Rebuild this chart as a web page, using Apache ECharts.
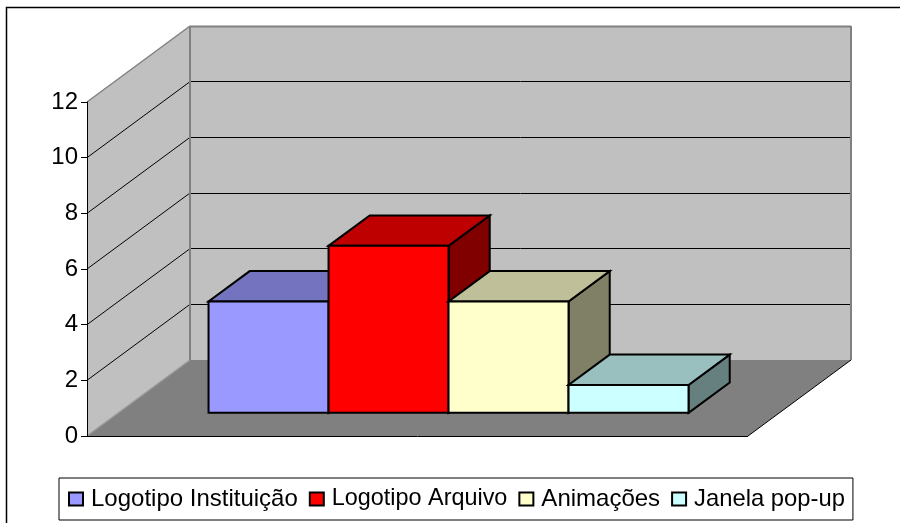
<!DOCTYPE html>
<html>
<head>
<meta charset="utf-8">
<style>
html, body { margin: 0; padding: 0; background: #fff; }
#main { width: 900px; height: 523px; }
</style>
<script src="https://cdn.jsdelivr.net/npm/echarts@6/dist/echarts.min.js"></script>
</head>
<body>
<div id="main"></div>
<script>
var categories = ['Logotipo Instituição', 'Logotipo Arquivo', 'Animações', 'Janela pop-up'];
var values = [4, 6, 4, 1];
var frontColors = ['#9999ff', '#ff0000', '#ffffcc', '#ccffff'];
var topColors = ['#7373bf', '#bf0000', '#bfbf99', '#99bfbf'];
var sideColors = ['#4d4d80', '#800000', '#808066', '#668080'];
var yTicks = [0, 2, 4, 6, 8, 10, 12];

// pseudo 3d: depth is a pixel shift of the front plane
var depthX = 103, depthY = -76;
var xMin = -0.7467, xMax = 4.7617;
var barFront = 0.31, barBack = 0.71;
// the reference legend text is hinted, so item widths differ slightly
var legendSizes = [24, 23.4, 24, 23.8];

function pt(api, x, v, d) {
    var c = api.coord([x, v]);
    return [c[0] + d * depthX, c[1] + d * depthY];
}

// bars sit a little lower than the exact scale, same as the reference
function barPt(api, x, v, d) {
    var p = pt(api, x, v, d);
    return [p[0], p[1] + 0.4];
}

function poly(points, fill, stroke, w) {
    return {
        type: 'polygon',
        shape: { points: points },
        style: { fill: fill, stroke: stroke || null, lineWidth: w || 0, lineJoin: 'miter' }
    };
}

function line(a, b, color, w) {
    var y1 = a[1], y2 = b[1];
    // keep horizontal lines on the pixel grid
    if (y1 === y2) y1 = y2 = Math.floor(y1) + 0.5;
    return {
        type: 'line',
        shape: { x1: a[0], y1: y1, x2: b[0], y2: y2 },
        style: { stroke: color, lineWidth: w }
    };
}

function renderWalls(params, api) {
    var top = yTicks[yTicks.length - 1];
    var kids = [];
    // side wall, back wall, floor
    kids.push(poly([pt(api, xMin, 0, 0), pt(api, xMin, 0, 1), pt(api, xMin, top, 1), pt(api, xMin, top, 0)], '#c0c0c0'));
    kids.push(poly([pt(api, xMin, 0, 1), pt(api, xMax, 0, 1), pt(api, xMax, top, 1), pt(api, xMin, top, 1)], '#c0c0c0'));
    kids.push(poly([pt(api, xMin, 0, 0), pt(api, xMax, 0, 0), pt(api, xMax, 0, 1), pt(api, xMin, 0, 1)], '#808080'));
    // grid lines
    yTicks.forEach(function (t) {
        if (t === 0 || t === top) return;
        kids.push(line(pt(api, xMin, t, 0), pt(api, xMin, t, 1), '#000', 1));
        kids.push(line(pt(api, xMin, t, 1), pt(api, xMax, t, 1), '#000', 1));
    });
    // wall edges
    kids.push(line(pt(api, xMin, 0, 1), pt(api, xMin, top, 1), '#808080', 2));
    kids.push(line(pt(api, xMin, top, 1), pt(api, xMax, top, 1), '#808080', 2));
    kids.push(line(pt(api, xMax, 0, 1), pt(api, xMax, top, 1), '#808080', 2));
    kids.push(line(pt(api, xMin, top, 0), pt(api, xMin, top, 1), '#808080', 1.5));
    kids.push(line(pt(api, xMin, 0, 0), pt(api, xMin, 0, 1), '#999', 1.5));
    // floor edges
    kids.push(line(pt(api, xMin, 0, 0), pt(api, xMax, 0, 0), '#000', 1));
    kids.push(line(pt(api, xMax, 0, 0), pt(api, xMax, 0, 1), '#000', 1));
    return { type: 'group', children: kids };
}

function renderBar(i) {
    return function (params, api) {
        var x0 = api.value(0), x1 = x0 + 1, v = api.value(1);
        var sw = 2;
        return {
            type: 'group',
            children: [
                poly([barPt(api, x1, 0, barFront), barPt(api, x1, 0, barBack), barPt(api, x1, v, barBack), barPt(api, x1, v, barFront)], sideColors[i], '#000', sw),
                poly([barPt(api, x0, v, barFront), barPt(api, x1, v, barFront), barPt(api, x1, v, barBack), barPt(api, x0, v, barBack)], topColors[i], '#000', sw),
                poly([barPt(api, x0, 0, barFront), barPt(api, x1, 0, barFront), barPt(api, x1, v, barFront), barPt(api, x0, v, barFront)], frontColors[i], '#000', sw)
            ]
        };
    };
}

var series = [{
    type: 'custom',
    silent: true,
    z: 1,
    data: [[0, 0]],
    renderItem: renderWalls
}];
categories.forEach(function (name, i) {
    series.push({
        name: name,
        type: 'custom',
        z: 2 + i,
        data: [[i, values[i]]],
        itemStyle: { color: frontColors[i], borderColor: '#000', borderWidth: 2 },
        renderItem: renderBar(i)
    });
});

var chart = echarts.init(document.getElementById('main'));
chart.setOption({
    animation: false,
    backgroundColor: '#fff',
    textStyle: { fontFamily: 'Liberation Sans' },
    graphic: [{
        type: 'rect',
        z: -1,
        shape: { x: 6.5, y: 7.5, width: 1000, height: 1000 },
        style: { fill: 'none', stroke: '#000', lineWidth: 1.5 }
    }],
    grid: { left: 87, top: 102, width: 661, height: 334 },
    xAxis: { type: 'value', min: xMin, max: xMax, show: false },
    yAxis: {
        type: 'value',
        min: 0,
        max: 12,
        interval: 2,
        z: 20,
        axisLine: { show: true, onZero: false, lineStyle: { color: '#000', width: 1 } },
        axisTick: { show: true, length: 6, lineStyle: { color: '#000', width: 1 } },
        axisLabel: { color: '#000', fontSize: 24, margin: 9, fontFamily: 'Liberation Sans' },
        splitLine: { show: false }
    },
    legend: {
        left: 59,
        top: 478,
        icon: 'rect',
        itemWidth: 14,
        itemHeight: 13,
        itemGap: 11,
        padding: [9, 8, 9, 9],
        borderColor: '#000',
        borderWidth: 1,
        data: categories.map(function (name, i) {
            return { name: name, textStyle: { fontSize: legendSizes[i] } };
        }),
        textStyle: { color: '#000', fontSize: 24, padding: [0, 0, 0, 3], fontFamily: 'Liberation Sans' }
    },
    series: series
});
</script>
</body>
</html>
